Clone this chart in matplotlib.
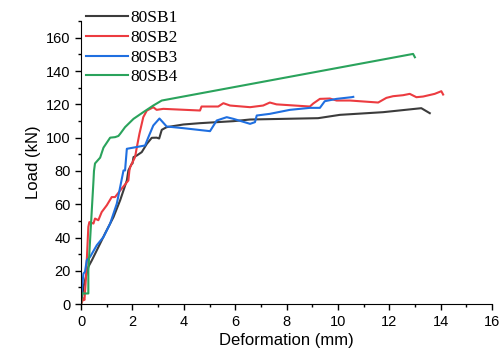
import numpy as np
import matplotlib.pyplot as plt
from matplotlib.ticker import MultipleLocator

# 80SB1
sb1_x = [0, 0.09, 0.28, 0.42, 0.74, 0.93, 1.26, 1.52, 1.78, 1.84, 1.97, 2.0, 2.04, 2.17, 2.36, 2.56,
	2.75, 2.94, 3.04, 3.14, 3.33, 3.98, 4.63, 5.93, 6.58, 9.23, 10.08, 11.76, 13.25, 13.58]
sb1_y = [0, 10.4, 22.4, 26.4, 36.4, 42.4, 52.3, 62.4, 74.3, 80.3, 84.3, 84.5, 88.3, 89.3, 91.3, 96.3,
	99.9, 100, 99.5, 104.7, 106.3, 107.9, 108.7, 109.9, 110.9, 111.7, 113.7, 115.3, 117.7, 114.7]

# 80SB2
sb2_x = [0, 0.09, 0.13, 0.19, 0.28, 0.32, 0.48, 0.54, 0.67, 0.80, 1.0, 1.19, 1.32, 1.58, 1.84, 1.88,
	1.91, 2.10, 2.17, 2.27, 2.42, 2.56, 2.69, 2.81, 2.94, 3.2, 4.63, 4.69, 5.34, 5.54, 5.8, 6.58,
	7.09, 7.35, 7.61, 8.91, 9.04, 9.30, 9.69, 9.95, 10.47, 11.57, 11.89, 12.15, 12.54, 12.8, 13.06,
	13.32, 13.77, 14.03, 14.1]
sb2_y = [0, 3.4, 2.5, 16.4, 46.4, 49.3, 48.4, 51.4, 50.4, 55.3, 59.4, 64.3, 64.3, 69.4, 74.3, 80.3,
	82.3, 88.3, 94.3, 102.3, 112.3, 116.3, 117.3, 118.3, 116.7, 117.3, 116.3, 118.7, 118.7, 120.7, 119.3, 118.3,
	119.3, 121.1, 120, 118.7, 120.5, 123.3, 123.5, 122.3, 122.3, 121.1, 123.9, 124.9, 125.5, 126.3, 124.3,
	124.7, 126.3, 127.9, 125.9]

# 80SB3
sb3_x = [0, 0.09, 0.15, 0.22, 0.35, 0.61, 0.87, 1.13, 1.39, 1.65, 1.71, 1.78, 2.49, 2.62, 2.81, 3.05,
	3.18, 3.33, 3.98, 5.02, 5.28, 5.67, 5.93, 6.58, 6.77, 6.84, 7.35, 8.13, 8.91, 9.3, 9.49, 9.95, 10.53, 10.6]
sb3_y = [4.4, 18.4, 19.4, 26.4, 28.4, 35.4, 40.3, 48.4, 60.4, 80.3, 80.3, 93.3, 95.3, 100.3, 107.3, 111.5,
	109.3, 106.7, 105.7, 103.9, 110.3, 112.3, 111.3, 108.3, 109.3, 113.3, 114.3, 116.7, 117.9, 117.9, 121.9, 123.3, 124.3, 124.5]

# 80SB4
sb4_x = [0, 0.02, 0.28, 0.28, 0.48, 0.5, 0.54, 0.74, 0.87, 1.13, 1.32, 1.45, 1.52, 1.71, 2.04, 2.42,
	2.81, 3.14, 12.93, 13.0]
sb4_y = [0, 6.4, 6.4, 20, 74, 80, 84.5, 88, 94, 100, 100.3, 101, 102.3, 106.3, 111.3, 115.3,
	119.3, 122.3, 150.3, 148.3]

labels = ["80SB1", "80SB2", "80SB3", "80SB4"]
colors = ["#3c3c3c", "#ec3b40", "#1f6fe0", "#2aa35c"]

def main():
	plt.rcParams["font.family"] = "Liberation Sans"
	fig = plt.figure(figsize=(5.04, 3.52), dpi=100)
	ax = fig.add_axes([0.161, 0.136, 0.815, 0.804])

	data = [(sb1_x, sb1_y), (sb2_x, sb2_y), (sb3_x, sb3_y), (sb4_x, sb4_y)]
	for (x, y), lab, c in zip(data, labels, colors):
		ax.plot(x, y, color=c, lw=1.5, label=lab)

	ax.set_xlim(0, 16)
	ax.set_ylim(0, 170)
	ax.xaxis.set_major_locator(MultipleLocator(2))
	ax.xaxis.set_minor_locator(MultipleLocator(1))
	ax.yaxis.set_major_locator(MultipleLocator(20))
	ax.yaxis.set_minor_locator(MultipleLocator(10))
	ax.tick_params(which="major", length=4, width=1, labelsize=10.5, direction="out")
	ax.tick_params(which="minor", length=2.5, width=1, direction="out")
	for s in ["top", "right"]:
		ax.spines[s].set_visible(False)

	ax.set_xlabel("Deformation (mm)", fontsize=12, labelpad=3)
	ax.set_ylabel("Load (kN)", fontsize=12)

	ax.legend(loc="upper left", bbox_to_anchor=(-0.005, 1.063), frameon=False,
		prop={"family": "Liberation Serif", "size": 12.5}, handlelength=2.4,
		labelspacing=0.2, handletextpad=0.15, borderaxespad=0)

	plt.savefig("out.png", dpi=100)
	plt.close(fig)

if __name__=="__main__":
	main()
